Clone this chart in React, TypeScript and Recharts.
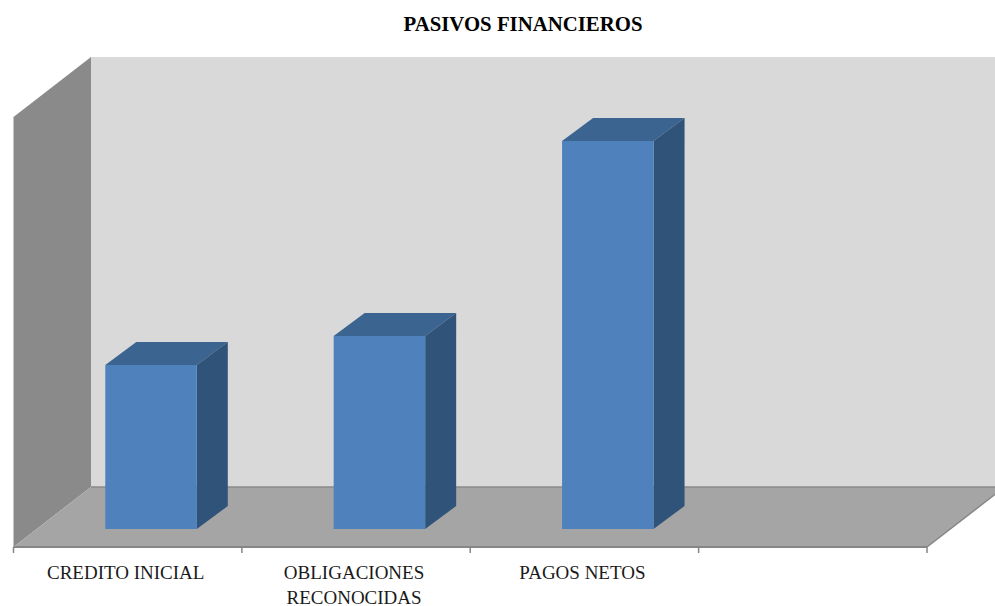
import { BarChart, Bar, XAxis, YAxis, ReferenceArea } from 'recharts';

const categories = ['CREDITO INICIAL', 'OBLIGACIONES RECONOCIDAS', 'PAGOS NETOS', ' '];
const pagos = [164, 193, 388, null];
const axisMax = 430;

const data = categories.map((name, i) => ({ name, value: pagos[i] }));

const DEPTH_X = 77.5;
const DEPTH_Y = 60;
const BAR_SHIFT_X = 23.8;
const BAR_SHIFT_Y = 18;
const BAR_DEPTH_X = 31;
const BAR_DEPTH_Y = 23;
const labelFont = '"Liberation Serif", serif';

// walls and floor of the fake 3D box, built from the plot rectangle
const Walls = ({ x, y, width, height }: any) => {
  const right = x + width;
  const bottom = y + height;
  const bx = x + DEPTH_X;
  const by = y - DEPTH_Y;
  const fy = bottom - DEPTH_Y;
  return (
    <g>
      <polygon points={`${bx},${by} ${right + DEPTH_X},${by} ${right + DEPTH_X},${fy} ${bx},${fy}`} fill="#d9d9d9" />
      <polygon points={`${x},${y} ${bx},${by} ${bx},${fy} ${x},${bottom}`} fill="#8a8a8a" />
      <polygon points={`${x},${bottom} ${bx},${fy} ${right + DEPTH_X},${fy} ${right},${bottom}`} fill="#a5a5a5" />
      <line x1={bx} y1={fy} x2={right + DEPTH_X} y2={fy} stroke="#8a8a8a" strokeWidth={1.5} />
      <line x1={right} y1={bottom} x2={right + DEPTH_X} y2={fy} stroke="#868686" strokeWidth={1.5} />
      <line x1={x} y1={bottom} x2={right} y2={bottom} stroke="#868686" strokeWidth={2} />
    </g>
  );
};

const Box = ({ x, y, width, height }: any) => {
  if (!height) return null;
  const l = x + BAR_SHIFT_X;
  const t = y - BAR_SHIFT_Y;
  const r = l + width;
  const b = t + height;
  return (
    <g>
      <polygon points={`${l},${t} ${l + BAR_DEPTH_X},${t - BAR_DEPTH_Y} ${r + BAR_DEPTH_X},${t - BAR_DEPTH_Y} ${r},${t}`} fill="#3c6491" />
      <polygon points={`${r},${t} ${r + BAR_DEPTH_X},${t - BAR_DEPTH_Y} ${r + BAR_DEPTH_X},${b - BAR_DEPTH_Y} ${r},${b}`} fill="#305379" />
      <rect x={l} y={t} width={width} height={height} fill="#4f81bd" />
    </g>
  );
};

const CategoryTick = ({ x, payload, index, width, visibleTicksCount }: any) => {
  const band = width / visibleTicksCount;
  const name: string = payload.value;
  const lines = name.length > 16 ? name.split(' ') : [name];
  return (
    <g>
      <line x1={x - band / 2} y1={547} x2={x - band / 2} y2={553} stroke="#868686" strokeWidth={1.5} />
      {index === visibleTicksCount - 1 && (
        <line x1={x + band / 2} y1={547} x2={x + band / 2} y2={553} stroke="#868686" strokeWidth={1.5} />
      )}
      {lines.map((line, i) => (
        <text key={i} x={x - 2} y={579 + i * 24.5} textAnchor="middle" fontFamily={labelFont} fontSize={19} fill="#1a1a1a">
          {line}
        </text>
      ))}
    </g>
  );
};

export default function App() {
  return (
    <div style={{ position: 'absolute', left: 0, top: 0, width: 995, height: 606, overflow: 'hidden', background: '#fff' }}>
      <div
        style={{
          position: 'absolute',
          left: 403,
          width: 240,
          top: 12,
          textAlign: 'center',
          fontFamily: labelFont,
          fontWeight: 'bold',
          fontSize: 20.8,
          whiteSpace: 'nowrap',
          color: '#000',
        }}
      >
        PASIVOS FINANCIEROS
      </div>
      <BarChart
        width={995}
        height={606}
        data={data}
        margin={{ top: 117, right: 68, bottom: 0, left: 13.5 }}
        style={{ position: 'absolute', left: 0, top: 0 }}
      >
        <XAxis
          dataKey="name"
          height={59}
          interval={0}
          axisLine={false}
          tickLine={false}
          tick={<CategoryTick />}
        />
        <YAxis hide domain={[0, axisMax]} />
        <ReferenceArea y1={0} y2={axisMax} ifOverflow="visible" shape={<Walls />} />
        <Bar dataKey="value" barSize={91.5} shape={<Box />} isAnimationActive={false} />
      </BarChart>
    </div>
  );
}
